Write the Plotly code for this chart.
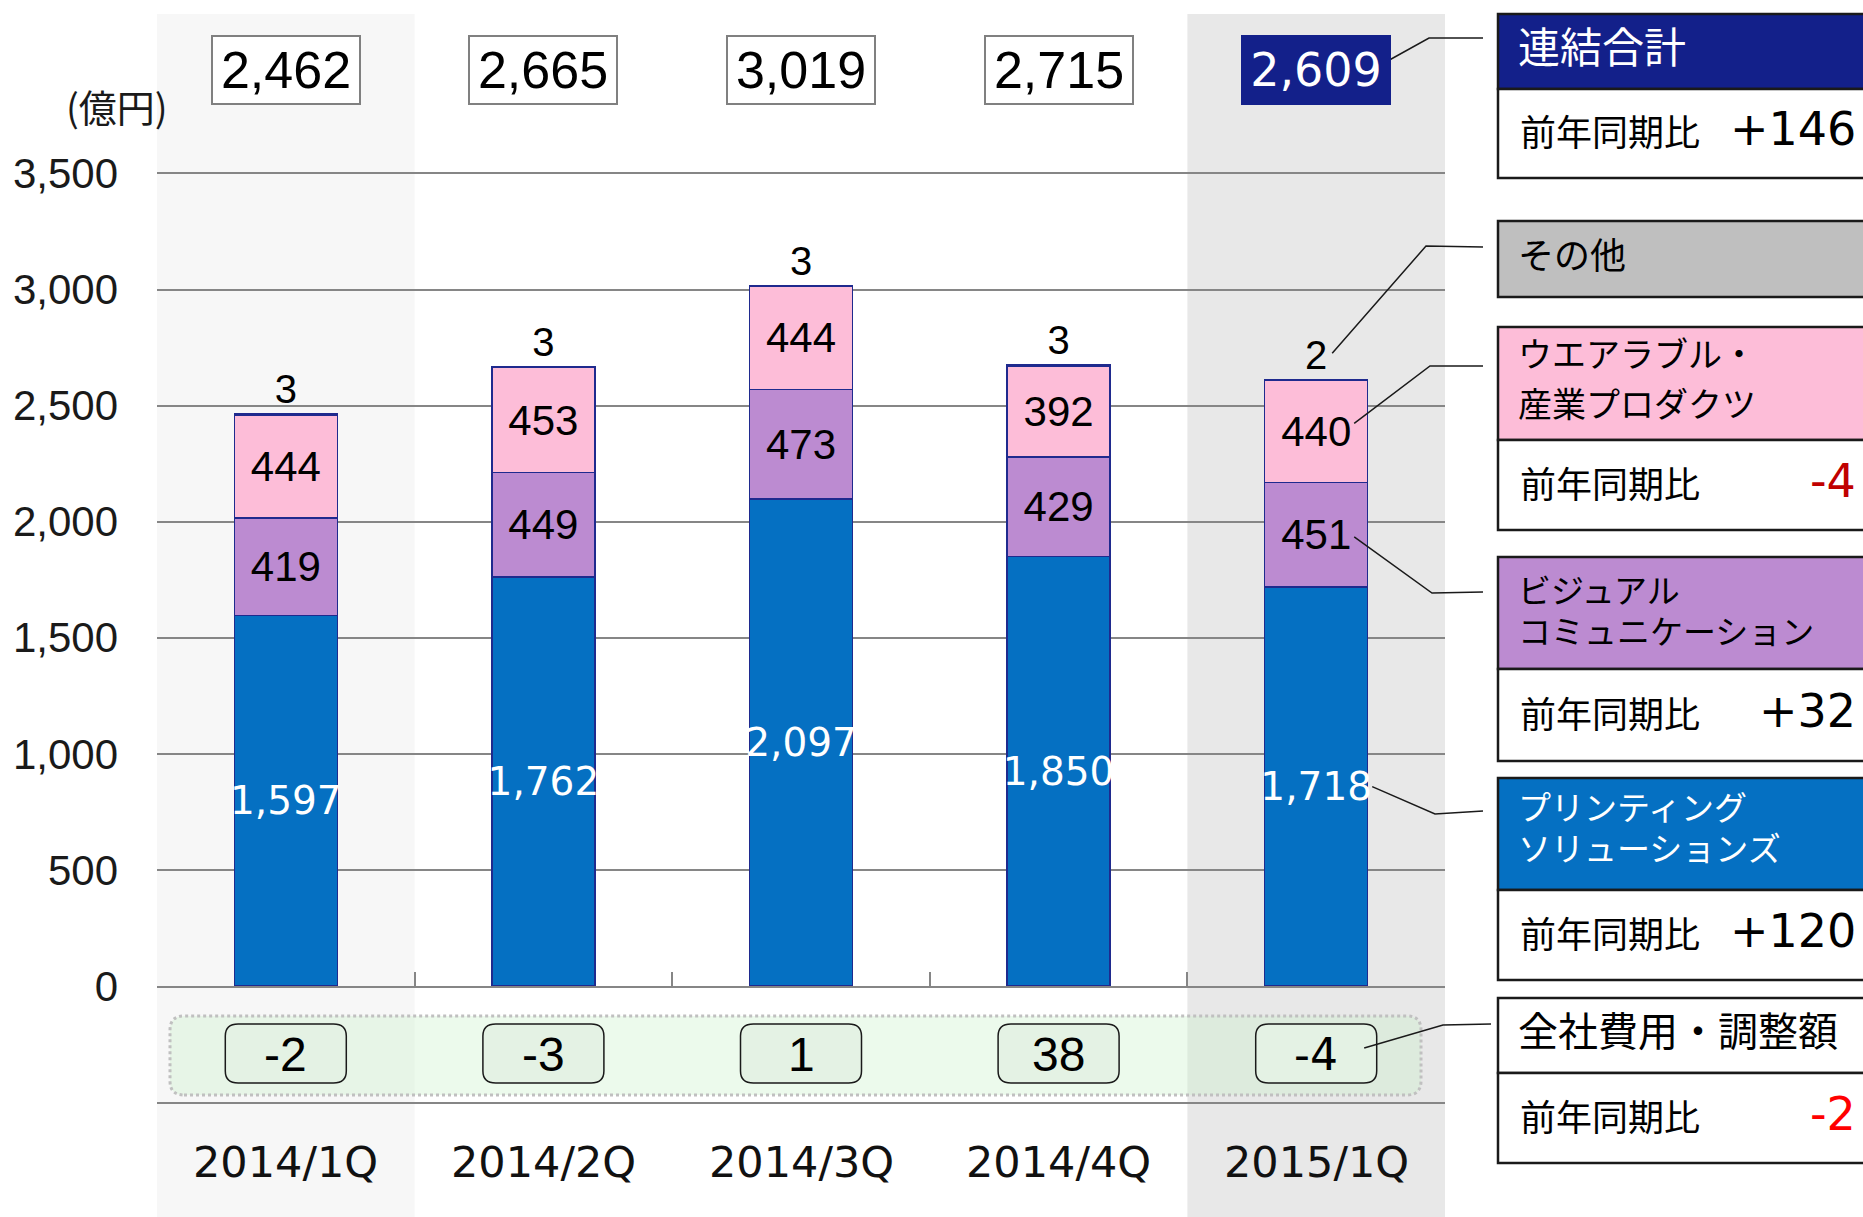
import plotly.graph_objects as go

# data (億円)
quarters = ["2014/1Q", "2014/2Q", "2014/3Q", "2014/4Q", "2015/1Q"]
printing = [1597, 1762, 2097, 1850, 1718]
visual = [419, 449, 473, 429, 451]
wearable = [444, 453, 444, 392, 440]
other = [3, 3, 3, 3, 2]
adjust = [-2, -3, 1, 38, -4]
totals = [2462, 2665, 3019, 2715, 2609]

W, H = 1863, 1217
X0, X1 = 157, 1445      # plot area in px
YB, YT = 986, 173.5     # px of 0 and of YMAX
YMAX = 3500
YTOP = 3510             # a bit of headroom so the 3,500 gridline is drawn

BLUE = "#0570c2"
PURPLE = "#bc8bd1"
PINK = "#fdbdd8"
NAVY = "#13208a"
BAR_LINE = "#1f2a8e"
GRID = "#868686"


def fx(px):
    return px / W


def fy(py):
    return 1 - py / H


def dx(xv):
    return X0 + (xv + 0.5) * (X1 - X0) / len(quarters)


def dy(yv):
    return YB - yv * (YB - YT) / YMAX


def rrect(x0, y0, x1, y1, rx, ry):
    return (f"M {x0 + rx},{y0} L {x1 - rx},{y0} Q {x1},{y0} {x1},{y0 + ry} "
            f"L {x1},{y1 - ry} Q {x1},{y1} {x1 - rx},{y1} L {x0 + rx},{y1} "
            f"Q {x0},{y1} {x0},{y1 - ry} L {x0},{y0 + ry} Q {x0},{y0} {x0 + rx},{y0} Z")


def label(x, y, text, font, xref="paper", xanchor="center", **kw):
    return dict(x=x, xref=xref, y=y, yref="paper", text=text, showarrow=False,
                xanchor=xanchor, yanchor="middle", font=font, **kw)


xs = list(range(len(quarters)))
fig = go.Figure()

bar_common = dict(x=xs, width=0.4, hoverinfo="skip", textangle=0, constraintext="none")
fig.add_bar(y=printing, marker=dict(color=BLUE, line=dict(color=BAR_LINE, width=1.5)),
            text=[f"{v:,}" for v in printing], textposition="inside", insidetextanchor="middle",
            textfont=dict(family="DejaVu Sans", size=39, color="white"), **bar_common)
fig.add_bar(y=visual, marker=dict(color=PURPLE, line=dict(color=BAR_LINE, width=1.5)),
            text=[str(v) for v in visual], textposition="inside", insidetextanchor="middle",
            textfont=dict(family="Liberation Sans", size=42, color="black"), **bar_common)
fig.add_bar(y=wearable, marker=dict(color=PINK, line=dict(color=BAR_LINE, width=1.5)),
            text=[str(v) for v in wearable], textposition="inside", insidetextanchor="middle",
            textfont=dict(family="Liberation Sans", size=42, color="black"), **bar_common)
fig.add_bar(y=other, marker=dict(color="#bfbfbf", line=dict(color=BAR_LINE, width=1.5)),
            text=[str(v) for v in other], textposition="outside", cliponaxis=False,
            textfont=dict(family="Liberation Sans", size=40, color="black"), **bar_common)

shapes = []
ann = []

# column shading
shapes.append(dict(type="rect", xref="x", yref="paper", x0=-0.51, x1=0.5, y0=0, y1=fy(14),
                   fillcolor="#f7f7f7", line_width=0, layer="below"))
shapes.append(dict(type="rect", xref="x", yref="paper", x0=3.5, x1=4.51, y0=0, y1=fy(14),
                   fillcolor="#e8e8e8", line_width=0, layer="below"))

# adjustment band
shapes.append(dict(type="path", xref="paper", yref="paper",
                   path=rrect(fx(170), fy(1095), fx(1421), fy(1016), fx(14), 14 / H),
                   fillcolor="rgba(200,240,200,0.35)", line=dict(color="#c0c0c0", width=3, dash="dot")))
shapes.append(dict(type="line", xref="x", yref="paper", x0=-0.5, x1=4.5, y0=fy(1103), y1=fy(1103),
                   line=dict(color=GRID, width=2)))
half = 60.5 / ((X1 - X0) / len(quarters))
for i, v in enumerate(adjust):
    shapes.append(dict(type="path", xref="x", yref="paper",
                       path=rrect(i - half, fy(1083), i + half, fy(1024), 0.05, 12 / H),
                       fillcolor="#e4f2e4", line=dict(color="#1a1a1a", width=1.5)))
    last = i == len(adjust) - 1
    ann.append(label(i, fy(1054), str(v), xref="x",
                     font=dict(family="DejaVu Sans" if last else "Liberation Sans",
                               size=44 if last else 48, color="black")))

# quarter labels
for i, q in enumerate(quarters):
    ann.append(label(i, fy(1162), q, xref="x", font=dict(family="DejaVu Sans", size=43, color="#111111")))

# totals
for i, t in enumerate(totals):
    last = i == len(totals) - 1
    ann.append(label(i, fy(70), f"{t:,}", xref="x", width=140, height=60, borderpad=3,
                     bgcolor=NAVY if last else "white", bordercolor=NAVY if last else "#808080",
                     borderwidth=2,
                     font=dict(family="DejaVu Sans" if last else "Liberation Sans",
                               size=46 if last else 52, color="white" if last else "black")))

ann.append(label(fx(117), fy(106), "(億円)", font=dict(family="Noto Sans CJK JP", size=38, color="#1a1a1a")))

# right-hand panel
PX0, PX1 = 1498, 1900
panel = [
    # header lines, fill, text colour, size, header y range, value row y range, value, value colour, line y
    (["連結合計"], NAVY, "white", 42, (14, 89), (89, 178), "+146", "black", [45]),
    (["その他"], "#bfbfbf", "black", 36, (221, 297), None, None, None, [253]),
    (["ウエアラブル・", "産業プロダクツ"], PINK, "black", 34, (327, 440), (440, 530), "-4", "#c00000", [352, 403]),
    (["ビジュアル", "コミュニケーション"], PURPLE, "black", 33, (557, 669), (669, 761), "+32", "black", [589, 630]),
    (["プリンティング", "ソリューションズ"], BLUE, "white", 33, (778, 890), (890, 980), "+120", "black", [806, 847]),
    (["全社費用・調整額"], "white", "black", 40, (998, 1073), (1073, 1163), "-2", "#ff0000", [1029]),
]
for lines, fill, tcol, size, hdr, val, vtxt, vcol, ly in panel:
    shapes.append(dict(type="rect", xref="paper", yref="paper", x0=fx(PX0), x1=fx(PX1),
                       y0=fy(hdr[1]), y1=fy(hdr[0]), fillcolor=fill, line=dict(color="#1a1a1a", width=2.5)))
    for line, yy in zip(lines, ly):
        ann.append(label(fx(1516), fy(yy), line, xanchor="left",
                         font=dict(family="Noto Sans CJK JP", size=size, color=tcol)))
    if val:
        shapes.append(dict(type="rect", xref="paper", yref="paper", x0=fx(PX0), x1=fx(PX1),
                           y0=fy(val[1]), y1=fy(val[0]), fillcolor="white", line=dict(color="#1a1a1a", width=2.5)))
        mid = (val[0] + val[1]) / 2
        ann.append(label(fx(1518), fy(mid - 3), "前年同期比", xanchor="left",
                         font=dict(family="Noto Sans CJK JP", size=36, color="black")))
        ann.append(label(fx(1858), fy(mid - 4), vtxt, xanchor="right",
                         font=dict(family="DejaVu Sans", size=46, color=vcol)))

# connectors from 2015/1Q labels to the panel
i = len(quarters) - 1
c = dx(i)
connectors = [
    [(c + 66, 64), (1429, 38), (1483, 38)],
    [(c + 16, dy(totals[i]) - 27), (1426, 246), (1483, 247)],
    [(c + 38, dy(printing[i] + visual[i] + wearable[i] / 2) - 8), (1430, 366), (1483, 366)],
    [(c + 38, dy(printing[i] + visual[i] / 2) + 2), (1432, 593), (1483, 592)],
    [(c + 56, dy(printing[i] / 2)), (1435, 814), (1483, 811)],
    [(c + 48, 1048), (1443, 1025), (1491, 1024)],
]
for pts in connectors:
    path = "M " + " L ".join(f"{fx(px)},{fy(py)}" for px, py in pts)
    shapes.append(dict(type="path", xref="paper", yref="paper", path=path,
                       line=dict(color="#1a1a1a", width=1.5)))

fig.update_layout(
    barmode="stack",
    width=W, height=H, autosize=False,
    margin=dict(l=0, r=0, t=0, b=0, pad=0),
    paper_bgcolor="white", plot_bgcolor="rgba(0,0,0,0)",
    showlegend=False,
    xaxis=dict(domain=[fx(X0), fx(X1)], range=[-0.5, len(quarters) - 0.5], showgrid=False,
               zeroline=False, showline=True, linecolor=GRID, linewidth=2, automargin=False,
               ticks="inside", tickvals=[k - 0.5 for k in range(len(quarters) + 1)],
               ticklen=14, tickcolor=GRID, tickwidth=1.5, showticklabels=False, fixedrange=True),
    yaxis=dict(domain=[fy(YB), fy(dy(YTOP))], range=[0, YTOP],
               tickvals=list(range(0, YMAX + 1, 500)), tickformat=",",
               showgrid=True, gridcolor=GRID, gridwidth=2, zeroline=False, showline=False,
               ticklabelstandoff=38, fixedrange=True, automargin=False,
               tickfont=dict(family="Liberation Sans", size=42, color="#1a1a1a")),
    shapes=shapes,
    annotations=ann,
)

fig.write_html("out.html", config={"displayModeBar": False},
               post_script="document.body.style.margin='0px';")
